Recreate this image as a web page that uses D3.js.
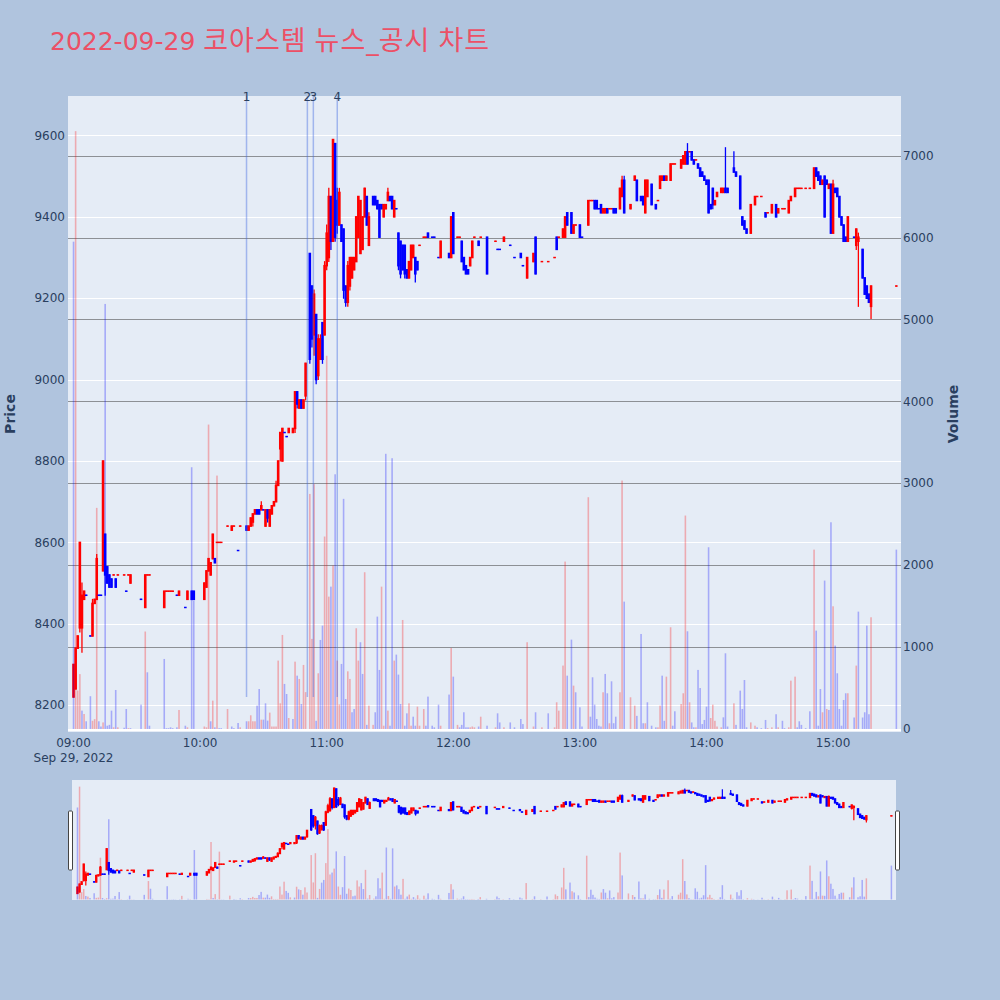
<!DOCTYPE html>
<html><head><meta charset="utf-8">
<script src="https://cdn.jsdelivr.net/npm/d3@7"></script>
<style>body{margin:0;background:#b0c4de}svg{display:block}</style>
</head><body><svg id="c" width="1000" height="1000"></svg>
<script>
const chartDay = "2022-09-29";
const titleParts = ["2022-09-29 ","코아스템"," ","뉴스","_","공시"," ","차트"];
const times = ["09:00","09:01","09:02","09:03","09:04","09:05","09:06","09:08","09:09","09:10",
"09:11","09:12","09:13","09:14","09:15","09:16","09:17","09:18","09:19","09:20",
"09:21","09:24","09:25","09:26","09:27","09:32","09:34","09:35","09:36","09:43",
"09:44","09:45","09:46","09:47","09:49","09:50","09:53","09:54","09:56","09:57",
"10:02","10:03","10:04","10:05","10:06","10:07","10:08","10:09","10:10","10:13",
"10:15","10:16","10:18","10:19","10:22","10:23","10:24","10:25","10:26","10:27",
"10:28","10:29","10:30","10:31","10:32","10:33","10:34","10:35","10:36","10:37",
"10:38","10:39","10:40","10:41","10:42","10:44","10:45","10:46","10:47","10:48",
"10:49","10:50","10:52","10:53","10:54","10:55","10:56","10:57","10:58","10:59",
"11:00","11:01","11:02","11:03","11:04","11:05","11:06","11:07","11:08","11:09",
"11:10","11:11","11:12","11:13","11:14","11:15","11:16","11:17","11:18","11:19",
"11:20","11:22","11:23","11:24","11:25","11:26","11:27","11:28","11:29","11:30",
"11:31","11:32","11:33","11:34","11:35","11:36","11:37","11:38","11:39","11:40",
"11:41","11:42","11:43","11:44","11:46","11:47","11:48","11:50","11:51","11:53",
"11:54","11:58","11:59","12:00","12:02","12:03","12:04","12:05","12:06","12:07",
"12:08","12:09","12:10","12:12","12:13","12:16","12:20","12:21","12:22","12:24",
"12:27","12:29","12:32","12:33","12:35","12:38","12:39","12:42","12:45","12:48",
"12:49","12:50","12:52","12:53","12:54","12:56","12:57","12:58","13:00","13:01",
"13:04","13:05","13:06","13:07","13:08","13:09","13:10","13:11","13:12","13:13",
"13:14","13:15","13:16","13:17","13:19","13:20","13:21","13:24","13:26","13:27",
"13:29","13:30","13:31","13:32","13:34","13:36","13:37","13:38","13:39","13:40",
"13:41","13:43","13:44","13:45","13:48","13:49","13:50","13:51","13:52","13:53",
"13:54","13:55","13:56","13:57","13:58","13:59","14:00","14:01","14:02","14:03",
"14:04","14:05","14:07","14:08","14:09","14:10","14:13","14:14","14:16","14:17",
"14:18","14:19","14:21","14:23","14:24","14:26","14:28","14:29","14:31","14:33",
"14:34","14:36","14:37","14:39","14:40","14:42","14:43","14:44","14:45","14:47",
"14:49","14:51","14:52","14:53","14:54","14:55","14:56","14:57","14:58","14:59",
"15:00","15:01","15:02","15:03","15:04","15:05","15:06","15:07","15:10","15:11",
"15:12","15:14","15:15","15:16","15:17","15:18","15:30"];
const open = [8220,8240,8340,8390,8390,8460,8470,8370,8370,8450,
8460,8470,8470,8530,8620,8540,8520,8510,8520,8510,
8520,8520,8480,8520,8500,8460,8440,8520,8520,8440,
8480,8480,8480,8480,8470,8470,8440,8460,8480,8480,
8460,8490,8530,8520,8560,8560,8600,8600,8600,8640,
8630,8640,8580,8640,8640,8630,8640,8650,8670,8680,
8680,8680,8680,8640,8680,8640,8670,8690,8700,8740,
8830,8800,8870,8860,8870,8870,8880,8970,8930,8950,
8930,8960,9310,9230,9110,9160,9010,9050,9140,9110,
9280,9300,9450,9340,9580,9440,9380,9380,9370,9230,
9190,9230,9250,9270,9290,9350,9310,9320,9400,9450,
9330,9450,9450,9440,9430,9430,9400,9420,9440,9450,
9450,9400,9420,9360,9340,9330,9330,9270,9250,9270,
9300,9300,9290,9330,9350,9350,9360,9350,9350,9300,
9300,9310,9300,9410,9350,9350,9340,9300,9280,9270,
9280,9300,9350,9340,9350,9350,9340,9320,9320,9340,
9330,9300,9310,9280,9250,9290,9350,9290,9290,9300,
9350,9350,9350,9350,9410,9410,9360,9380,9380,9350,
9380,9440,9440,9440,9440,9420,9430,9410,9410,9420,
9420,9420,9420,9420,9420,9450,9490,9420,9490,9490,
9450,9450,9410,9450,9480,9430,9440,9470,9490,9500,
9490,9490,9530,9530,9520,9530,9530,9560,9560,9560,
9540,9540,9530,9520,9510,9500,9490,9490,9430,9470,
9430,9450,9460,9460,9470,9470,9520,9510,9500,9400,
9390,9370,9360,9430,9450,9450,9410,9410,9410,9430,
9410,9420,9420,9410,9440,9450,9470,9470,9470,9470,
9470,9470,9520,9510,9500,9480,9500,9490,9470,9480,
9360,9470,9470,9450,9400,9380,9350,9340,9350,9330,
9340,9320,9250,9230,9210,9180,9230];
const high = [8300,8340,8370,8600,8500,8480,8470,8370,8460,8460,
8570,8470,8470,8800,8620,8540,8520,8510,8520,8510,
8520,8520,8480,8520,8520,8460,8520,8520,8520,8480,
8480,8480,8480,8480,8470,8480,8440,8480,8480,8480,
8500,8530,8560,8550,8620,8560,8600,8600,8600,8640,
8640,8640,8580,8640,8640,8640,8660,8670,8680,8680,
8680,8700,8680,8680,8680,8680,8690,8700,8750,8800,
8870,8880,8870,8860,8880,8880,8970,8970,8950,8950,
8950,9040,9310,9230,9220,9160,9110,9110,9140,9290,
9380,9470,9450,9590,9580,9470,9470,9380,9370,9230,
9290,9300,9300,9300,9400,9450,9440,9400,9470,9450,
9410,9450,9450,9440,9430,9430,9430,9430,9470,9450,
9450,9440,9420,9360,9340,9330,9330,9270,9290,9330,
9330,9300,9290,9330,9350,9350,9360,9350,9350,9300,
9340,9310,9400,9410,9350,9350,9340,9300,9280,9270,
9300,9340,9350,9340,9350,9350,9340,9320,9320,9350,
9330,9300,9310,9280,9300,9310,9350,9290,9290,9300,
9350,9350,9370,9400,9410,9410,9380,9380,9380,9350,
9440,9440,9440,9440,9440,9420,9430,9420,9420,9420,
9420,9420,9420,9420,9470,9500,9500,9430,9500,9490,
9450,9450,9490,9490,9480,9430,9440,9500,9500,9500,
9500,9530,9530,9530,9540,9550,9560,9580,9560,9560,
9540,9540,9530,9520,9510,9500,9490,9490,9430,9470,
9440,9460,9470,9470,9570,9470,9560,9510,9500,9400,
9390,9370,9430,9450,9450,9450,9410,9410,9430,9430,
9420,9420,9420,9440,9450,9470,9470,9470,9470,9470,
9470,9520,9520,9510,9500,9490,9500,9490,9480,9480,
9490,9470,9470,9450,9400,9380,9350,9400,9350,9370,
9360,9320,9250,9230,9210,9230,9230];
const low = [8220,8240,8340,8380,8330,8460,8470,8370,8370,8450,
8460,8470,8470,8530,8470,8500,8490,8490,8520,8490,
8520,8520,8480,8520,8500,8460,8440,8520,8520,8440,
8480,8480,8480,8480,8470,8470,8440,8460,8460,8460,
8460,8490,8530,8520,8560,8550,8600,8600,8600,8640,
8630,8640,8580,8640,8630,8630,8640,8640,8670,8670,
8670,8680,8680,8640,8650,8640,8670,8690,8700,8740,
8800,8800,8870,8860,8870,8870,8870,8930,8930,8930,
8930,8950,9040,9080,9060,8990,9000,9050,9040,9110,
9270,9290,9320,9340,9340,9360,9380,9340,9200,9180,
9180,9220,9250,9270,9290,9350,9310,9320,9400,9380,
9330,9430,9430,9420,9350,9420,9400,9420,9440,9440,
9420,9400,9420,9270,9250,9270,9250,9250,9250,9270,
9300,9240,9270,9330,9350,9350,9350,9350,9350,9300,
9300,9300,9300,9310,9350,9350,9290,9270,9260,9260,
9280,9300,9350,9330,9350,9260,9340,9320,9320,9340,
9330,9300,9300,9280,9250,9290,9260,9290,9290,9300,
9320,9350,9350,9350,9380,9360,9360,9380,9350,9350,
9380,9440,9440,9420,9420,9420,9410,9410,9410,9410,
9420,9420,9410,9410,9420,9450,9410,9420,9490,9440,
9440,9430,9410,9450,9430,9420,9440,9470,9490,9490,
9490,9490,9530,9530,9520,9530,9530,9530,9560,9540,
9530,9540,9520,9500,9500,9490,9480,9410,9420,9420,
9430,9450,9460,9460,9460,9460,9510,9500,9420,9380,
9370,9360,9360,9430,9450,9450,9400,9410,9410,9400,
9410,9420,9420,9410,9440,9450,9470,9470,9470,9470,
9470,9470,9500,9490,9480,9480,9400,9480,9470,9360,
9360,9460,9450,9400,9380,9340,9340,9340,9350,9320,
9180,9250,9210,9200,9190,9150,9230];
const close = [8300,8340,8370,8600,8470,8480,8470,8370,8450,8460,
8560,8470,8470,8800,8520,8500,8490,8490,8520,8490,
8520,8520,8480,8520,8520,8460,8520,8520,8520,8480,
8480,8480,8480,8480,8470,8480,8440,8480,8460,8460,
8500,8530,8560,8550,8620,8550,8600,8600,8600,8640,
8640,8640,8580,8640,8630,8640,8660,8670,8680,8670,
8670,8690,8680,8680,8660,8680,8690,8700,8740,8800,
8870,8880,8870,8860,8880,8880,8970,8940,8950,8930,
8950,9040,9050,9100,9210,9000,9100,9100,9050,9280,
9360,9450,9340,9590,9350,9380,9460,9340,9220,9190,
9280,9300,9300,9300,9400,9450,9440,9400,9470,9380,
9400,9430,9430,9420,9350,9420,9430,9430,9460,9440,
9420,9440,9420,9280,9260,9270,9260,9250,9290,9330,
9330,9260,9270,9330,9350,9350,9350,9350,9350,9300,
9340,9300,9400,9310,9350,9350,9290,9270,9260,9260,
9300,9340,9350,9330,9350,9260,9340,9320,9320,9350,
9330,9300,9300,9280,9300,9310,9260,9290,9290,9300,
9320,9350,9370,9400,9380,9360,9380,9380,9350,9350,
9440,9440,9440,9420,9420,9420,9410,9420,9420,9410,
9420,9420,9410,9410,9470,9490,9410,9430,9500,9440,
9440,9430,9490,9490,9430,9420,9440,9500,9500,9490,
9500,9530,9530,9530,9540,9550,9560,9530,9560,9540,
9530,9540,9520,9500,9500,9490,9480,9410,9420,9430,
9440,9460,9470,9470,9460,9460,9510,9500,9420,9380,
9370,9360,9430,9450,9450,9450,9400,9410,9430,9400,
9420,9420,9420,9440,9450,9470,9470,9470,9470,9470,
9470,9520,9500,9490,9480,9490,9400,9480,9480,9360,
9480,9460,9450,9400,9380,9340,9340,9400,9350,9370,
9350,9250,9210,9200,9190,9230,9230];
const volume = [5950,7300,470,670,224,183,94,400,100,120,
2700,94,30,80,5190,40,50,224,20,476,
20,15,244,10,10,297,1190,692,40,855,
10,10,20,10,20,232,40,20,3196,1568,
30,20,3717,94,346,20,3094,10,10,244,
30,10,73,20,94,94,167,94,94,285,
488,114,114,313,102,200,30,30,30,835,
313,1148,550,427,134,122,822,651,611,305,
782,450,2870,1100,2990,100,680,1087,1262,2350,
4557,1616,1738,1995,3110,835,300,794,2810,366,
704,611,204,244,1230,835,1059,672,1914,50,
285,50,204,1372,721,1738,40,3360,224,40,
3306,835,908,664,305,1331,40,191,313,40,
150,40,273,40,244,40,395,40,20,297,
40,420,989,639,50,20,50,204,20,20,
20,30,20,30,150,40,20,191,80,20,
80,20,122,60,1059,30,204,20,191,20,
326,224,774,2044,651,1091,529,448,265,30,
2830,150,631,297,122,40,30,448,672,436,
70,582,70,150,448,3033,1555,387,285,160,
1160,70,70,326,40,20,20,285,651,100,
639,1242,40,216,305,436,2606,1193,326,80,
20,20,721,500,60,110,273,2219,134,297,
100,30,20,142,924,30,313,50,468,244,
598,20,80,40,20,10,110,10,20,180,
20,100,10,20,590,639,20,94,50,10,
216,2190,1201,40,488,204,1812,244,232,2524,
1498,1018,680,244,40,354,436,436,140,774,
1433,140,204,1262,180,1364,2190];
const newsTimes = ["10:22:00","10:50:50","10:53:40","11:05:00"];
const newsLabels = ["1","2","3","4"];
const priceTicks = [8200,8400,8600,8800,9000,9200,9400,9600];
const volumeTicks = [0,1000,2000,3000,4000,5000,6000,7000];
const timeTicks = ["09:00","10:00","11:00","12:00","13:00","14:00","15:00"];
const xRange = ["08:57:23","15:32:12"];
const priceRange = [8134,9697];
const volumeRange = [-37,7729];

const pT = d3.timeParse("%Y-%m-%d %H:%M");
const pS = d3.timeParse("%Y-%m-%d %H:%M:%S");
const data = times.map((t,i)=>({t:pT(chartDay+" "+t),o:open[i],h:high[i],l:low[i],c:close[i],v:volume[i]}));
let inc = true, prev = null;
data.forEach(d=>{
  if (d.c===d.o){ if(prev!==null && d.c!==prev) inc = d.c>prev; } else inc = d.c>d.o;
  d.inc = inc; d.vUp = prev!==null && d.c>prev; prev = d.c;
});
const RED="#ff0000", BLUE="#0000ff", TXT="#2a3f5f";
const FONT="'DejaVu Sans', Verdana, 'Noto Sans CJK KR', sans-serif";

const svg = d3.select("#c");
svg.append("rect").attr("width",1000).attr("height",1000).attr("fill","#b0c4de");
const P = {l:68,r:901,t:96,b:732};
const xd = [pS(chartDay+" "+xRange[0]), pS(chartDay+" "+xRange[1])];
const x = d3.scaleTime().domain(xd).range([P.l,P.r]);
const yP = d3.scaleLinear().domain(priceRange).range([P.b,P.t]);
const yV = d3.scaleLinear().domain(volumeRange).range([P.b,P.t]);

svg.append("rect").attr("x",P.l).attr("y",P.t).attr("width",P.r-P.l).attr("height",P.b-P.t).attr("fill","#e5ecf6");
const defs = svg.append("defs");
defs.append("clipPath").attr("id","pc").append("rect").attr("x",P.l).attr("y",P.t).attr("width",P.r-P.l).attr("height",P.b-P.t);

// grids
const g = svg.append("g");
g.selectAll(".pg").data(priceTicks).join("line").attr("x1",P.l).attr("x2",P.r)
 .attr("y1",d=>Math.round(yP(d))+0.5).attr("y2",d=>Math.round(yP(d))+0.5).attr("stroke","#fff").attr("stroke-width",1);
g.selectAll(".vg").data(volumeTicks.filter(v=>v>0)).join("line").attr("x1",P.l).attr("x2",P.r)
 .attr("y1",d=>Math.round(yV(d))+0.5).attr("y2",d=>Math.round(yV(d))+0.5).attr("stroke","#8d9095").attr("stroke-width",1.2);
g.append("line").attr("x1",P.l).attr("x2",P.r).attr("y1",yV(0)+1).attr("y2",yV(0)+1).attr("stroke","#fff").attr("stroke-width",2);

function drawCandles(sel, xs, ys, bw, ww){
  sel.selectAll("line.w").data(data).join("line").attr("class","w")
    .attr("x1",d=>xs(d.t)).attr("x2",d=>xs(d.t)).attr("y1",d=>ys(d.h)-0.5).attr("y2",d=>ys(d.l)+0.5)
    .attr("stroke",d=>d.inc?RED:BLUE).attr("stroke-width",ww);
  sel.selectAll("rect.b").data(data).join("rect").attr("class","b")
    .attr("x",d=>xs(d.t)-bw/2).attr("width",bw)
    .attr("y",d=>ys(Math.max(d.o,d.c))-0.75)
    .attr("height",d=>Math.max(1.5, Math.abs(ys(d.o)-ys(d.c))+1.5))
    .attr("fill",d=>d.inc?RED:BLUE);
}
function drawVolume(sel, xs, ys, w){
  sel.selectAll("rect.v").data(data).join("rect").attr("class","v")
    .attr("x",d=>xs(d.t)-w/2).attr("width",w)
    .attr("y",d=>ys(d.v)).attr("height",d=>Math.max(0, ys(0)-ys(d.v)))
    .attr("fill",d=>d.vUp?RED:BLUE).attr("fill-opacity",0.28);
}
const main = svg.append("g").attr("clip-path","url(#pc)");
drawCandles(main.append("g"), x, yP, 2.6, 1.3);
drawVolume(main.append("g"), x, yV, 1.6);

// news lines
const minLow = d3.min(low);
const nl = svg.append("g");
newsTimes.forEach((t,i)=>{
  const xx = x(pS(chartDay+" "+t));
  nl.append("line").attr("x1",xx).attr("x2",xx).attr("y1",P.t).attr("y2",yP(minLow))
    .attr("stroke","royalblue").attr("stroke-opacity",0.42).attr("stroke-width",1.5);
  nl.append("text").attr("x",xx).attr("y",101).attr("text-anchor","middle")
    .attr("font-family",FONT).attr("font-size",12).attr("fill",TXT).text(newsLabels[i]);
});

// axes labels
const at = svg.append("g").attr("font-family",FONT).attr("font-size",12).attr("fill",TXT);
priceTicks.forEach(v=>at.append("text").attr("x",65).attr("y",yP(v)).attr("dy","0.35em").attr("text-anchor","end").text(v));
volumeTicks.forEach(v=>at.append("text").attr("x",903).attr("y",yV(v)).attr("dy","0.35em").attr("text-anchor","start").text(v));
timeTicks.forEach(t=>at.append("text").attr("x",x(pT(chartDay+" "+t))).attr("y",747).attr("text-anchor","middle").text(t));
at.append("text").attr("x",x(pT(chartDay+" "+timeTicks[0]))).attr("y",762).attr("text-anchor","middle")
  .text(d3.timeFormat("%b %-d, %Y")(pT(chartDay+" 09:00")));
svg.append("text").attr("transform","translate(14.5,414) rotate(-90)").attr("text-anchor","middle")
  .attr("font-family",FONT).attr("font-size",14).attr("font-weight","bold").attr("fill",TXT).text("Price");
svg.append("text").attr("transform","translate(958,414) rotate(-90)").attr("text-anchor","middle")
  .attr("font-family",FONT).attr("font-size",14).attr("font-weight","bold").attr("fill",TXT).text("Volume");
const title = svg.append("text").attr("x",50).attr("y",50).attr("font-family",FONT).attr("font-size",25).attr("fill","#ec5066");
titleParts.forEach(s=>{
  const ts = title.append("tspan").text(s);
  if (/[\uAC00-\uD7A3]/.test(s)) ts.attr("font-size",27).attr("letter-spacing",1);
});

// range slider
const S = {l:72,r:896,t:780,b:900};
svg.append("rect").attr("x",S.l).attr("y",S.t).attr("width",S.r-S.l).attr("height",S.b-S.t).attr("fill","#e5ecf6");
defs.append("clipPath").attr("id","sc").append("rect").attr("x",S.l).attr("y",S.t).attr("width",S.r-S.l).attr("height",S.b-S.t);
const sx = d3.scaleTime().domain(xd).range([S.l,S.r]);
const syP = d3.scaleLinear().domain(priceRange).range([S.b,S.t]);
const syV = d3.scaleLinear().domain(volumeRange).range([S.b,S.t]);
const sg = svg.append("g").attr("clip-path","url(#sc)");
drawCandles(sg.append("g"), sx, syP, 2.4, 1.2);
drawVolume(sg.append("g"), sx, syV, 1.5);
[S.l-1.5, S.r+1.5].forEach(hx=>{
  svg.append("rect").attr("x",hx-2).attr("y",811).attr("width",4).attr("height",59)
    .attr("fill","#fff").attr("stroke","#444").attr("stroke-width",1).attr("rx",1);
});
</script></body></html>
